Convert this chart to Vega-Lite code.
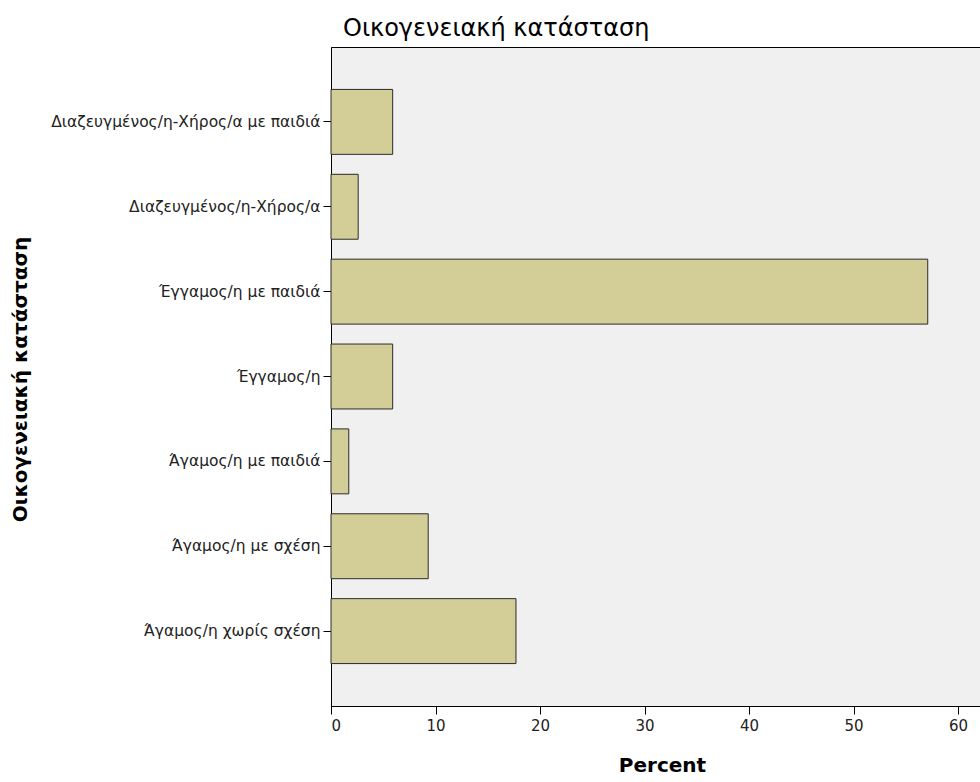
{
  "$schema": "https://vega.github.io/schema/vega-lite/v6.json",
  "autosize": "none",
  "width": 649,
  "height": 659,
  "padding": {"left": 331, "top": 47, "right": 0, "bottom": 76},
  "background": "white",
  "title": {
    "text": "Οικογενειακή κατάσταση",
    "anchor": "start",
    "frame": "group",
    "dx": 12,
    "offset": 6,
    "font": "DejaVu Sans",
    "fontSize": 24,
    "fontWeight": "normal",
    "color": "#000000"
  },
  "config": {
    "view": {"fill": "#F0F0F0", "stroke": "#000000", "strokeWidth": 1},
    "font": "DejaVu Sans"
  },
  "data": {
    "values": [
      {"status": "Διαζευγμένος/η-Χήρος/α με παιδιά", "percent": 5.9},
      {"status": "Διαζευγμένος/η-Χήρος/α", "percent": 2.6},
      {"status": "Έγγαμος/η με παιδιά", "percent": 57.1},
      {"status": "Έγγαμος/η", "percent": 5.9},
      {"status": "Άγαμος/η με παιδιά", "percent": 1.7},
      {"status": "Άγαμος/η με σχέση", "percent": 9.3},
      {"status": "Άγαμος/η χωρίς σχέση", "percent": 17.7}
    ]
  },
  "mark": {"type": "bar", "fill": "#D3CE97", "stroke": "#2b2b2b", "strokeWidth": 1},
  "encoding": {
    "y": {
      "field": "status",
      "type": "nominal",
      "sort": null,
      "scale": {"paddingInner": 0.235, "paddingOuter": 0.5},
      "axis": {
        "title": "Οικογενειακή κατάσταση",
        "titleFont": "DejaVu Sans",
        "titleFontSize": 20,
        "titleFontWeight": "bold",
        "titleColor": "#000000",
        "titleX": -311,
        "titleY": 332,
        "titleAngle": -90,
        "titleAlign": "center",
        "titleBaseline": "middle",
        "labelFont": "DejaVu Sans",
        "labelFontSize": 15.5,
        "labelColor": "#222222",
        "labelPadding": 3,
        "labelLimit": 400,
        "tickSize": 8,
        "tickColor": "#000000",
        "domainColor": "#000000",
        "grid": false
      }
    },
    "x": {
      "field": "percent",
      "type": "quantitative",
      "scale": {"domain": [0, 62.1], "nice": false},
      "axis": {
        "title": "Percent",
        "titleFont": "DejaVu Sans",
        "titleFontSize": 20,
        "titleFontWeight": "bold",
        "titleColor": "#000000",
        "titleX": 331,
        "titleAnchor": null,
        "titlePadding": 22,
        "values": [0, 10, 20, 30, 40, 50, 60],
        "labelFont": "DejaVu Sans",
        "labelFontSize": 15,
        "labelColor": "#222222",
        "labelPadding": 4,
        "tickSize": 8,
        "tickColor": "#000000",
        "domainColor": "#000000",
        "grid": false
      }
    }
  }
}
